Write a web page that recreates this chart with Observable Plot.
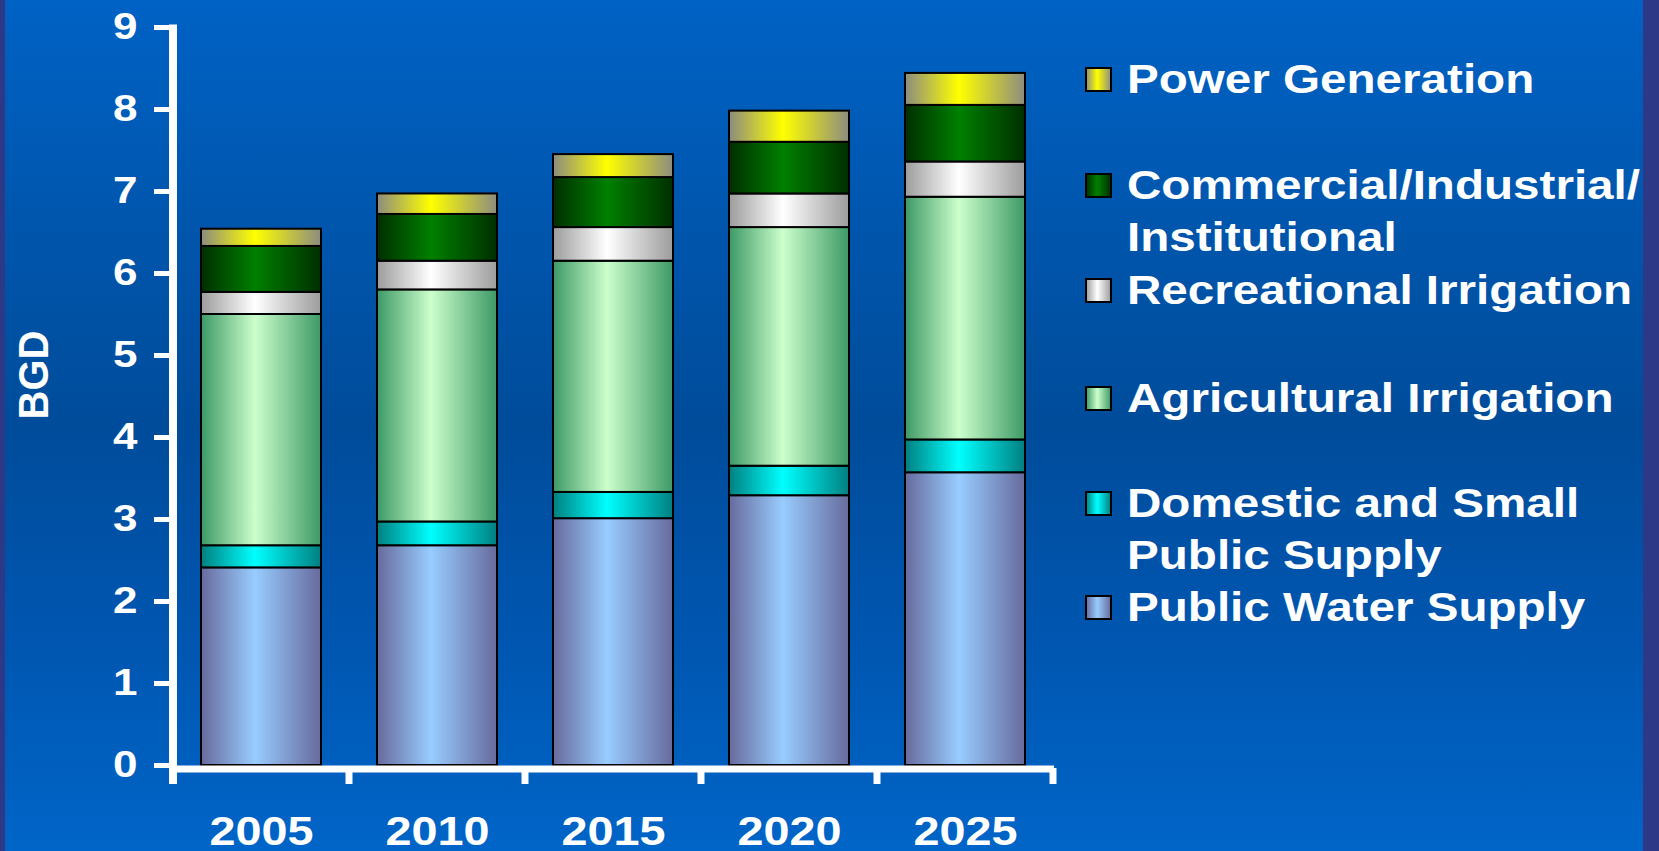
<!DOCTYPE html>
<html>
<head>
<meta charset="utf-8">
<script src="https://cdn.jsdelivr.net/npm/d3@7"></script>
<script src="https://cdn.jsdelivr.net/npm/@observablehq/plot@0.6"></script>
<style>
  html, body { margin: 0; padding: 0; width: 1659px; height: 851px; overflow: hidden; background: #2d3886; }
  #stage { position: absolute; left: 5px; top: 0; width: 1638px; height: 851px;
    background: linear-gradient(to bottom, #0062c5 0%, #0055ab 28%, #004c9b 50%, #0056b0 75%, #0065c8 100%); }
  #chart { position: absolute; left: 0; top: 0; }
  #ylabel { position: absolute; left: 33px; top: 375px; color: white; font: bold 40px "Liberation Sans", Arial, sans-serif;
    transform: translate(-50%, -50%) rotate(-90deg) scaleY(1.05); white-space: nowrap; line-height: 1; }
  #legend { position: absolute; left: 0; top: 0; }
</style>
</head>
<body>
<div id="stage"></div>
<div id="chart"></div>
<div id="ylabel">BGD</div>
<div id="legend"></div>
<script>
// ---- data ----
const years = ["2005", "2010", "2015", "2020", "2025"];
const seriesNames = [
  "Public Water Supply",
  "Domestic and Small Public Supply",
  "Agricultural Irrigation",
  "Recreational Irrigation",
  "Commercial/Industrial/Institutional",
  "Power Generation"
];
const publicWater  = [2.41, 2.68, 3.01, 3.29, 3.57];
const domestic     = [0.27, 0.29, 0.32, 0.36, 0.40];
const agricultural = [2.82, 2.83, 2.82, 2.91, 2.96];
const recreational = [0.27, 0.35, 0.41, 0.41, 0.43];
const commercial   = [0.56, 0.57, 0.61, 0.63, 0.69];
const power        = [0.21, 0.25, 0.28, 0.38, 0.39];
const yTicks = [0, 1, 2, 3, 4, 5, 6, 7, 8, 9];
const legendLines = [
  ["Power Generation"],
  ["Commercial/Industrial/", "Institutional"],
  ["Recreational Irrigation"],
  ["Agricultural Irrigation"],
  ["Domestic and Small", "Public Supply"],
  ["Public Water Supply"]
];
// gradient colours (edge, centre) per series
const edgeColors   = ["#676a9c", "#007f80", "#3c9966", "#9c9c9c", "#002e00", "#8c8c80"];
const centerColors = ["#99ccff", "#00ffff", "#ccffcc", "#ffffff", "#008000", "#ffff00"];

const valueLists = [publicWater, domestic, agricultural, recreational, commercial, power];
const data = [];
seriesNames.forEach((s, i) => years.forEach((yr, j) => data.push({year: yr, series: s, value: valueLists[i][j]})));

const FONT = '"Liberation Sans", Arial, Helvetica, sans-serif';

function axisDecor(index, scales, values, dims) {
  const x = scales.x, y = scales.y;
  const bw = typeof x.bandwidth === "function" ? x.bandwidth() : x.bandwidth;
  const step = x(years[1]) - x(years[0]);
  const bounds = years.map(v => x(v) - (step - bw) / 2);
  bounds.push(bounds[bounds.length - 1] + step);
  const y0 = y(0), y9 = y(9);
  const g = d3.create("svg:g").attr("stroke", "white").attr("fill", "none");
  g.append("line").attr("x1", bounds[0]).attr("x2", bounds[0])
    .attr("y1", y9 - 2.5).attr("y2", y0 + 19).attr("stroke-width", 8);
  g.selectAll("line.bt").data(bounds.slice(1)).join("line").attr("class", "bt")
    .attr("x1", d => d).attr("x2", d => d).attr("y1", y0 + 3).attr("y2", y0 + 19).attr("stroke-width", 7);
  return g.node();
}

const chart = Plot.plot({
  width: 1659,
  height: 851,
  marginLeft: 172,
  marginRight: 605,
  marginTop: 27,
  marginBottom: 86,
  style: {background: "transparent", color: "white", fontFamily: FONT, fontWeight: "bold", overflow: "visible"},
  x: {type: "band", domain: years, paddingInner: 0.32, paddingOuter: 0.16, label: null},
  y: {domain: [0, 9], label: null},
  color: {type: "ordinal", domain: seriesNames, range: seriesNames.map((_, i) => `url(#grad${i})`)},
  marks: [
    Plot.barY(data, {x: "year", y: "value", fill: "series", stroke: "black", strokeWidth: 2}),
    Plot.ruleY([0], {dy: 3.5, stroke: "white", strokeWidth: 7}),
    Plot.axisY({ticks: yTicks, tickSize: 18, tickPadding: 17, strokeWidth: 5, fontSize: 37, fontWeight: "bold", label: null}),
    Plot.axisX({tickSize: 0, tickPadding: 50, fontSize: 41, fontWeight: "bold", label: null}),
    axisDecor
  ]
});

// gradient definitions
const svgSel = d3.select(chart.tagName.toLowerCase() === "svg" ? chart : chart.querySelector("svg"));
const defs = svgSel.insert("defs", ":first-child");
seriesNames.forEach((s, i) => {
  const lg = defs.append("linearGradient").attr("id", `grad${i}`).attr("x1", 0).attr("x2", 1).attr("y1", 0).attr("y2", 0);
  lg.append("stop").attr("offset", "0%").attr("stop-color", edgeColors[i]);
  lg.append("stop").attr("offset", "45%").attr("stop-color", centerColors[i]);
  lg.append("stop").attr("offset", "100%").attr("stop-color", edgeColors[i]);
});

// horizontal stretch of text to match the widened original
function stretch(textEl, s) {
  const x = +(textEl.getAttribute("x") || 0);
  const t = textEl.getAttribute("transform") || "";
  textEl.setAttribute("transform", `${t} translate(${x},0) scale(${s},1) translate(${-x},0)`);
}
svgSel.selectAll('g[aria-label="y-axis tick label"] text').each(function() { stretch(this, 1.19); });
svgSel.selectAll('g[aria-label="x-axis tick label"] text').each(function() { stretch(this, 1.14); });

document.getElementById("chart").appendChild(chart);

// legend
const baselines = [93, 199, 304, 412, 517, 621];
const lsvg = d3.select("#legend").append("svg").attr("width", 1659).attr("height", 851)
  .style("font-family", FONT).style("font-weight", "bold").style("font-size", "40px");
legendLines.forEach((lines, k) => {
  const si = seriesNames.length - 1 - k;
  const b = baselines[k];
  lsvg.append("rect").attr("x", 1086).attr("y", b - 25).attr("width", 25).attr("height", 23)
    .attr("fill", `url(#grad${si})`).attr("stroke", "black").attr("stroke-width", 2);
  lines.forEach((ln, m) => {
    lsvg.append("text").attr("transform", `translate(1127,${b + m * 52}) scale(1.19,1)`)
      .attr("fill", "white").text(ln);
  });
});
</script>
</body>
</html>
